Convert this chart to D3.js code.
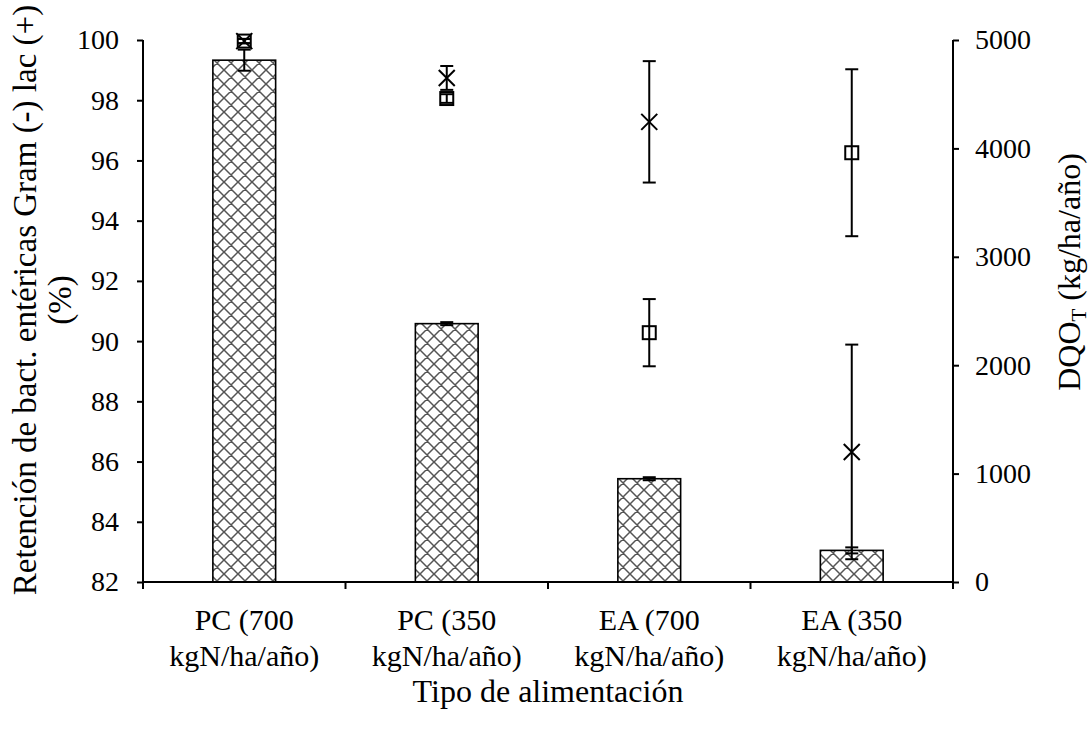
<!DOCTYPE html>
<html>
<head>
<meta charset="utf-8">
<script src="https://cdn.jsdelivr.net/npm/d3@7"></script>
<style>
  body { margin: 0; background: #fff; }
  svg text { font-family: 'Liberation Serif', 'Times New Roman', Tinos, Times, 'DejaVu Serif', serif !important; }
</style>
</head>
<body>
<div id="chart"></div>
<script>
let width = 1091;
let height = 738;

// categories (two lines each)
let categories = ["PC (700 kgN/ha/año)", "PC (350 kgN/ha/año)", "EA (700 kgN/ha/año)", "EA (350 kgN/ha/año)"];
let categoryLines = [["PC (700", "kgN/ha/año)"], ["PC (350", "kgN/ha/año)"], ["EA (700", "kgN/ha/año)"], ["EA (350", "kgN/ha/año)"]];

// bars: retention (%) on left axis
let barValues = [99.33, 90.58, 85.43, 83.05];
let barErrors = [0.35, 0.05, 0.05, 0.1];

// markers on right axis (DQO_T kg/ha/año)
let squareValues = [4990, 4460, 2300, 3960];
let squareErrors = [20, 40, 310, 770];
let crossValues = [4990, 4650, 4245, 1200];
let crossErrors = [20, 110, 560, 990];

let leftTicks = [82, 84, 86, 88, 90, 92, 94, 96, 98, 100];
let rightTicks = [0, 1000, 2000, 3000, 4000, 5000];

let margin = { left: 143, right: 1091 - 953, top: 40, bottom: 738 - 582 };

let svg = d3.select("#chart").append("svg")
  .attr("width", width)
  .attr("height", height);

// crosshatch pattern for bars
let defs = svg.append("defs");
let pat = defs.append("pattern")
  .attr("id", "hatch")
  .attr("patternUnits", "userSpaceOnUse")
  .attr("width", 14)
  .attr("height", 14);
pat.append("rect").attr("width", 14).attr("height", 14).attr("fill", "#fff");
pat.append("path")
  .attr("d", "M0,0 L14,14 M14,0 L0,14 M-2,12 L2,16 M12,-2 L16,2 M-2,2 L2,-2 M12,16 L16,12")
  .attr("stroke", "#555")
  .attr("stroke-width", 1.5);

let x = d3.scaleBand()
  .domain(categories)
  .range([margin.left, width - margin.right])
  .paddingInner(0)
  .paddingOuter(0);

let yLeft = d3.scaleLinear().domain([82, 100]).range([height - margin.bottom, margin.top]);
let yRight = d3.scaleLinear().domain([0, 5000]).range([height - margin.bottom, margin.top]);

let barW = x.bandwidth() * 0.31;
let cx = function(i) { return x(categories[i]) + x.bandwidth() / 2; };

// bars
svg.append("g")
  .selectAll("rect")
  .data(barValues)
  .enter().append("rect")
    .attr("x", function(d, i) { return cx(i) - barW / 2; })
    .attr("y", function(d) { return yLeft(d); })
    .attr("width", barW)
    .attr("height", function(d) { return yLeft(82) - yLeft(d); })
    .attr("fill", "url(#hatch)")
    .attr("stroke", "#000")
    .attr("stroke-width", 1.6);

// error bar helper
function errorBars(g, values, errors, scale) {
  let cap = 6.5;
  values.forEach(function(v, i) {
    let c = cx(i);
    let y1 = scale(v + errors[i]);
    let y2 = scale(v - errors[i]);
    g.append("line").attr("x1", c).attr("x2", c).attr("y1", y1).attr("y2", y2);
    g.append("line").attr("x1", c - cap).attr("x2", c + cap).attr("y1", y1).attr("y2", y1);
    g.append("line").attr("x1", c - cap).attr("x2", c + cap).attr("y1", y2).attr("y2", y2);
  });
}

let errG = svg.append("g").attr("stroke", "#000").attr("stroke-width", 2);
errorBars(errG, barValues, barErrors, yLeft);
errorBars(errG, squareValues, squareErrors, yRight);
errorBars(errG, crossValues, crossErrors, yRight);

// square markers
svg.append("g")
  .selectAll("rect")
  .data(squareValues)
  .enter().append("rect")
    .attr("x", function(d, i) { return cx(i) - 6.5; })
    .attr("y", function(d) { return yRight(d) - 6.5; })
    .attr("width", 13)
    .attr("height", 13)
    .attr("fill", "none")
    .attr("stroke", "#000")
    .attr("stroke-width", 2);

// cross markers
svg.append("g")
  .selectAll("path")
  .data(crossValues)
  .enter().append("path")
    .attr("d", function(d, i) {
      let px = cx(i), py = yRight(d), s = 8;
      return "M" + (px - s) + "," + (py - s) + "L" + (px + s) + "," + (py + s) +
             "M" + (px + s) + "," + (py - s) + "L" + (px - s) + "," + (py + s);
    })
    .attr("stroke", "#000")
    .attr("stroke-width", 2)
    .attr("fill", "none");

// axes
let axisLeft = d3.axisLeft(yLeft).tickValues(leftTicks).tickSize(6).tickPadding(18).tickFormat(d3.format("d"));
let axisRight = d3.axisRight(yRight).tickValues(rightTicks).tickSize(6).tickPadding(16).tickFormat(d3.format("d"));

let gl = svg.append("g").attr("transform", "translate(" + margin.left + ",0)").call(axisLeft);
let gr = svg.append("g").attr("transform", "translate(" + (width - margin.right) + ",0)").call(axisRight);

[gl, gr].forEach(function(g) {
  g.attr("font-family", null);
  g.select(".domain").attr("d", function() {
    return "M0," + margin.top + "V" + (height - margin.bottom);
  }).attr("stroke", "#000").attr("stroke-width", 2);
  g.selectAll(".tick line").attr("stroke", "#000").attr("stroke-width", 2);
  g.selectAll(".tick text")
    .attr("font-size", 28)
    .attr("fill", "#000");
});

// x axis: line and boundary ticks
let xg = svg.append("g").attr("stroke", "#000").attr("stroke-width", 2);
xg.append("line")
  .attr("x1", margin.left).attr("x2", width - margin.right)
  .attr("y1", yLeft(82)).attr("y2", yLeft(82));
let bounds = categories.map(function(c) { return x(c); }).concat([x.range()[1]]);
xg.selectAll(".xt")
  .data(bounds)
  .enter().append("line")
    .attr("x1", function(d) { return d; })
    .attr("x2", function(d) { return d; })
    .attr("y1", yLeft(82))
    .attr("y2", yLeft(82) + 7);

// category labels
let lab = svg.append("g")
  .attr("font-size", 30)
  .attr("text-anchor", "middle")
  .attr("fill", "#000");
categoryLines.forEach(function(lines, i) {
  let t = lab.append("text").attr("x", cx(i)).attr("y", 630);
  lines.forEach(function(s, j) {
    t.append("tspan").attr("x", cx(i)).attr("dy", j === 0 ? 0 : 36).text(s);
  });
});

// axis titles
svg.append("text")
  .attr("x", 548)
  .attr("y", 702)
  .attr("text-anchor", "middle")
  .attr("font-size", 32)
  .text("Tipo de alimentación");

let lt = svg.append("text")
  .attr("transform", "translate(36," + 300 + ") rotate(-90)")
  .attr("text-anchor", "middle")
  .attr("font-size", 33);
lt.append("tspan").attr("x", 0).attr("dy", 0).text("Retención de bact. entéricas Gram (-) lac (+)");
lt.append("tspan").attr("x", 0).attr("dy", 35).text("(%)");

let rt = svg.append("text")
  .attr("transform", "translate(1080," + 272 + ") rotate(-90)")
  .attr("text-anchor", "middle")
  .attr("font-size", 32);
rt.append("tspan").text("DQO");
rt.append("tspan").attr("font-size", 21).attr("dy", 6).text("T");
rt.append("tspan").attr("dy", -6).text(" (kg/ha/año)");
</script>
</body>
</html>
